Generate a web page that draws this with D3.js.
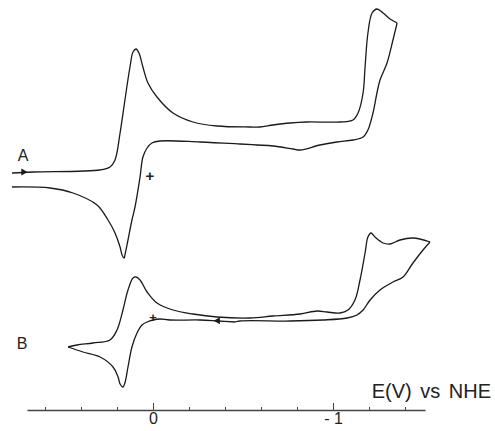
<!DOCTYPE html>
<html>
<head>
<meta charset="utf-8">
<script src="https://cdn.jsdelivr.net/npm/d3@7/dist/d3.min.js"></script>
<style>
    body { margin: 0; background: #fff; }
    svg { display: block; }
    .trace { fill: none; stroke: #1a1a1a; stroke-width: 1.3; stroke-linejoin: round; }
    .axis path, .axis line { stroke: #444; stroke-width: 1.5; }
    .axis text { font-family: "Liberation Sans", Arial, sans-serif; font-size: 16px; fill: #222; }
    .lbl { font-family: "Liberation Sans", Arial, sans-serif; fill: #222; }
</style>
</head>
<body>
<div id="cv"></div>
<script>
// 電位 E (V vs NHE) と電流 (任意単位) — 各掃引を別々に持つ
var sweepA1 = [ // A: 正側から負側へ
    [0.783, -0.5], [0.667, 0], [0.294, 1], [0.239, 2.5], [0.211, 6], [0.183, 19.5],
    [0.156, 36], [0.128, 52.5], [0.111, 60], [0.094, 61.5], [0.078, 59.5], [0.056, 52.5],
    [0.028, 44.5], [-0.022, 37.5], [-0.111, 29.5], [-0.222, 25], [-0.356, 23], [-0.539, 22.5],
    [-0.594, 22.5], [-0.667, 23.5], [-0.761, 24.5], [-0.856, 25], [-1.039, 25], [-1.111, 26],
    [-1.139, 29.5], [-1.167, 39.5], [-1.178, 52.5], [-1.194, 69.5], [-1.217, 79.5], [-1.244, 81.5],
    [-1.278, 79.5], [-1.317, 76.5], [-1.356, 74.5]
];
var sweepA2 = [ // A: 折り返し後、正側へ
    [-1.356, 74.5], [-1.333, 66], [-1.3, 54.5], [-1.261, 46], [-1.244, 39.5], [-1.222, 29.5],
    [-1.194, 21], [-1.167, 17.5], [-1.111, 16], [-1.022, 15], [-0.928, 13.5], [-0.817, 11],
    [-0.778, 11.5], [-0.667, 13], [-0.578, 13.5], [-0.483, 14], [-0.261, 15], [-0.039, 15.5],
    [0.006, 14.5], [0.033, 12], [0.056, 7.5], [0.072, -2.5], [0.1, -17.5], [0.117, -24],
    [0.139, -34], [0.156, -41.5], [0.161, -43], [0.172, -41.5], [0.183, -37.5], [0.211, -30.5],
    [0.25, -24], [0.311, -16.5], [0.444, -10.5], [0.572, -8], [0.783, -7.5]
];
var sweepB1 = [ // B: 開始点から正側へ
    [-0.456, -1], [-0.361, -0.5], [-0.261, 0], [-0.094, 0], [-0.039, 0.5], [0, 0],
    [0.033, -1], [0.061, -2.5], [0.089, -6.5], [0.117, -13.5], [0.139, -23.5], [0.156, -31.5],
    [0.167, -33.5], [0.183, -32], [0.194, -28.5], [0.222, -23.5], [0.294, -18.5], [0.389, -16],
    [0.472, -13.5]
];
var sweepB2 = [ // B: 負側へ
    [0.472, -13.5], [0.422, -12.5], [0.333, -11.5], [0.239, -10], [0.2, -5], [0.167, 5],
    [0.139, 15], [0.111, 21], [0.094, 21.5], [0.072, 20], [0.033, 14], [-0.022, 8.5],
    [-0.111, 5], [-0.222, 3], [-0.356, 1.5], [-0.539, 1], [-0.667, 2], [-0.817, 3],
    [-0.911, 4.5], [-0.967, 4], [-1.039, 3.5], [-1.083, 5], [-1.122, 10], [-1.15, 20],
    [-1.178, 33.5], [-1.194, 41.5], [-1.211, 43.5], [-1.233, 41.5], [-1.278, 38.5], [-1.317, 38],
    [-1.372, 40], [-1.444, 41], [-1.539, 39]
];
var sweepB3 = [ // B: 開始点へ戻る
    [-1.539, 39], [-1.5, 35], [-1.444, 28.5], [-1.389, 21.5], [-1.333, 19], [-1.261, 15],
    [-1.206, 10], [-1.167, 5], [-1.133, 2.5], [-1.078, 1], [-0.944, 0], [-0.761, -0.5],
    [-0.483, -0.5], [-0.456, -1]
];
var tickValues = [0.6, 0.4, 0.2, 0, -0.2, -0.4, -0.6, -0.8, -1, -1.2, -1.4];
var tickLabels = { "0": "0", "-1": "- 1" };
var axisTitle = "E(V) vs NHE";
var panelLabels = ["A", "B"];

var width = 495;
var height = 431;

var svg = d3.select("#cv")
    .append("svg")
    .attr("width", width)
    .attr("height", height);

// スケール関数の生成
var xScale = d3.scaleLinear()
    .domain([0.7, -1.511])
    .range([27, 425]);

var yA = d3.scaleLinear()
    .domain([0, 80])
    .range([172, 12]);

var yB = d3.scaleLinear()
    .domain([0, 40])
    .range([320, 240]);

function line(yScale) {
    return d3.line()
        .x(function (d) { return xScale(d[0]); })
        .y(function (d) { return yScale(d[1]); })
        .curve(d3.curveCatmullRom.alpha(0.5));
}

[sweepA1, sweepA2].forEach(function (s) {
    svg.append("path").attr("class", "trace").attr("d", line(yA)(s));
});
[sweepB1, sweepB2, sweepB3].forEach(function (s) {
    svg.append("path").attr("class", "trace").attr("d", line(yB)(s));
});

// 矢印
function arrow(x, y, angle) {
    svg.append("path")
        .attr("d", d3.symbol().type(d3.symbolTriangle).size(22)())
        .attr("transform", "translate(" + x + "," + y + ") rotate(" + angle + ")")
        .attr("fill", "#1a1a1a");
}
arrow(xScale(0.72), yA(0), 90);
arrow(xScale(-0.36), yB(-0.4), -90);

// + 印
svg.append("text").attr("class", "lbl")
    .attr("x", xScale(0.017)).attr("y", yA(-2) + 5)
    .attr("text-anchor", "middle").style("font-size", "15px").style("font-weight", "bold")
    .text("+");
svg.append("text").attr("class", "lbl")
    .attr("x", xScale(0)).attr("y", yB(0) + 2)
    .attr("text-anchor", "middle").style("font-size", "13px").style("font-weight", "bold")
    .text("+");

// A, B
svg.append("text").attr("class", "lbl")
    .attr("x", 23).attr("y", yA(8.5) + 6)
    .attr("text-anchor", "middle").style("font-size", "16px")
    .text(panelLabels[0]);
svg.append("text").attr("class", "lbl")
    .attr("x", 22).attr("y", yB(-11.5) + 6)
    .attr("text-anchor", "middle").style("font-size", "16px")
    .text(panelLabels[1]);

// X 軸
var xAxis = d3.axisBottom(xScale)
    .tickValues(tickValues)
    .tickSizeInner(-3)
    .tickSizeOuter(0)
    .tickPadding(3)
    .tickFormat(function (d) { return tickLabels[String(d)] || ""; });

var gx = svg.append("g")
    .attr("class", "axis")
    .attr("transform", "translate(0,410)")
    .call(xAxis);
gx.selectAll(".tick line")
    .attr("y2", function (d) { return (d === 0 || d === -1) ? -7 : -3; })
    .style("stroke-width", 1);

svg.append("text").attr("class", "lbl")
    .attr("x", 491).attr("y", 398)
    .attr("text-anchor", "end")
    .style("font-size", "20px")
    .style("word-spacing", "3px")
    .text(axisTitle);
</script>
</body>
</html>
